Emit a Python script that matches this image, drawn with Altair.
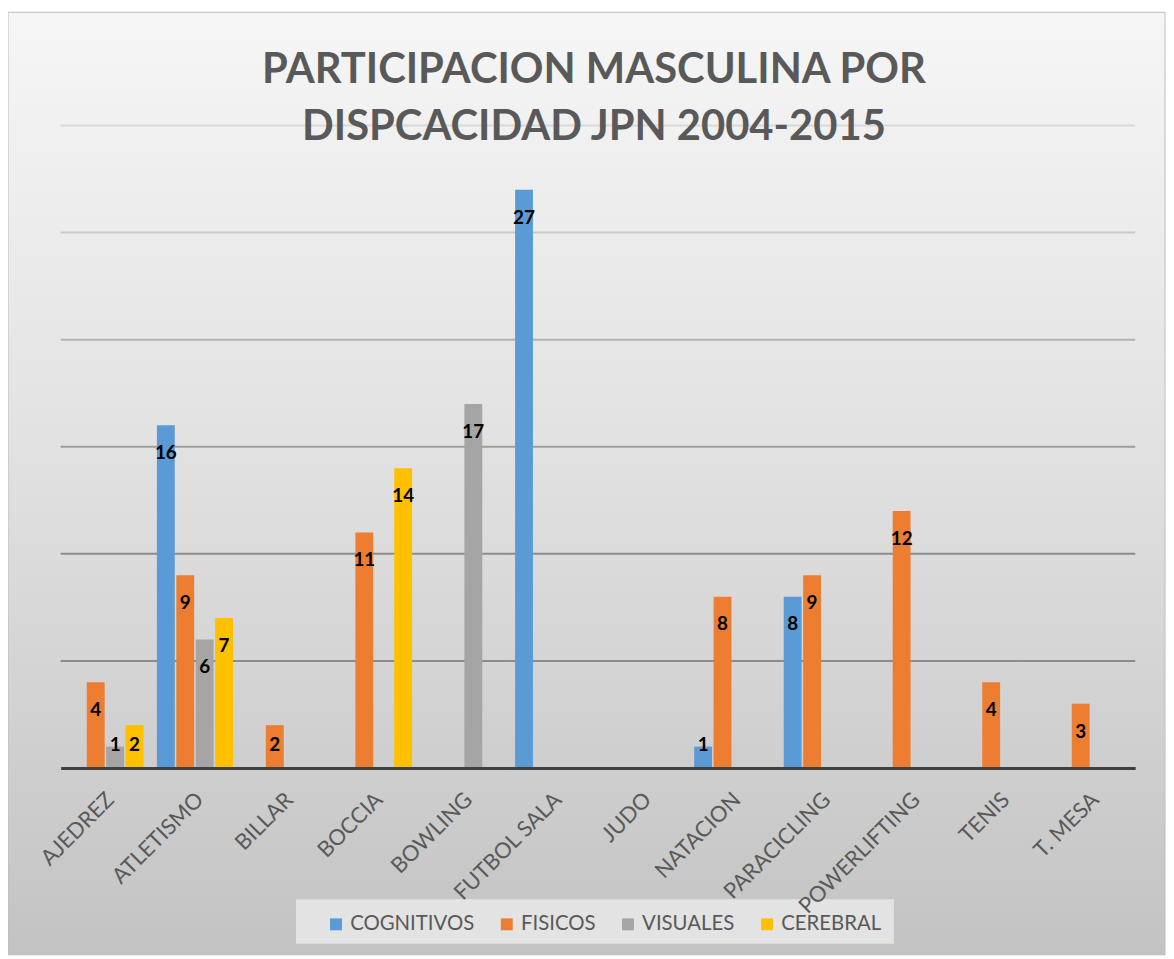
import altair as alt
import pandas as pd

categories = ["AJEDREZ", "ATLETISMO", "BILLAR", "BOCCIA", "BOWLING", "FUTBOL SALA",
              "JUDO", "NATACION", "PARACICLING", "POWERLIFTING", "TENIS", "T. MESA"]
series = ["COGNITIVOS", "FISICOS", "VISUALES", "CEREBRAL"]
cognitivos = [0, 16, 0, 0, 0, 27, 0, 1, 8, 0, 0, 0]
fisicos = [4, 9, 2, 11, 0, 0, 0, 8, 9, 12, 4, 3]
visuales = [1, 6, 0, 0, 17, 0, 0, 0, 0, 0, 0, 0]
cerebral = [2, 7, 0, 14, 0, 0, 0, 0, 0, 0, 0, 0]
colors = ["#5B9BD5", "#ED7D31", "#A5A5A5", "#FFC000"]
grid_values = [5, 10, 15, 20, 25, 30]

rows = []
for s, vals in zip(series, [cognitivos, fisicos, visuales, cerebral]):
    for c, v in zip(categories, vals):
        rows.append({"cat": c, "serie": s, "value": v})
df = pd.DataFrame(rows)

W, H = 1082, 647
PL, PT, PR, PB = 53, 115, 31, 189

bg = alt.Chart(alt.Data(values=[{"k": 1}])).mark_rect(
    color=alt.LinearGradient(
        gradient="linear",
        stops=[alt.GradientStop(color="#f6f6f6", offset=0),
               alt.GradientStop(color="#e2e2e2", offset=0.45),
               alt.GradientStop(color="#c3c3c3", offset=1)],
        x1=0, x2=0, y1=0, y2=1),
    stroke="#bdbdbd", strokeWidth=1
).encode(
    x=alt.value(-PL), x2=alt.value(W + PR - 1),
    y=alt.value(-PT + 1), y2=alt.value(H + PB - 1)
)

legend_box = alt.Chart(alt.Data(values=[{"k": 1}])).mark_rect(
    color="#e3e3e3"
).encode(
    x=alt.value(237), x2=alt.value(839),
    y=alt.value(779), y2=alt.value(824)
)

ydom = alt.Scale(domain=[0, 30], nice=False)

grid = alt.Chart(pd.DataFrame({"g": grid_values})).mark_rule(strokeWidth=2).encode(
    y=alt.Y("g:Q", scale=ydom, axis=None),
    color={"condition": [
        {"test": "datum.g >= 30", "value": "#d9d9d9"},
        {"test": "datum.g >= 25", "value": "#c9c9c9"},
        {"test": "datum.g >= 20", "value": "#b3b3b3"},
        {"test": "datum.g >= 15", "value": "#9e9e9e"}],
        "value": "#8c8c8c"}
)

x_enc = alt.X("cat:N", sort=categories,
              scale=alt.Scale(paddingInner=0.15, paddingOuter=0.075),
              axis=alt.Axis(title=None, labelAngle=-45, labelAlign="right",
                            labelBaseline="middle", labelFont="Lato",
                            labelFontSize=22, labelColor="#595959",
                            labelPadding=28, labelOffset=5, ticks=False,
                            domainColor="#404040", domainWidth=3, grid=False,
                            zindex=1))
xo_enc = alt.XOffset("serie:N", sort=series, scale=alt.Scale(paddingInner=0.08))

bars = alt.Chart(df).mark_bar().encode(
    x=x_enc, xOffset=xo_enc,
    y=alt.Y("value:Q", scale=ydom, axis=None),
    color=alt.Color("serie:N", sort=series,
                    scale=alt.Scale(domain=series, range=colors),
                    legend=alt.Legend(orient="none", legendX=256, legendY=783,
                                      direction="horizontal", columns=4, title=None,
                                      symbolType="square", symbolSize=144,
                                      symbolStrokeWidth=0,
                                      labelFont="Lato", labelFontSize=20.5,
                                      labelColor="#595959",
                                      padding=11, columnPadding=22, labelOffset=4))
)

labels = alt.Chart(df).transform_filter("datum.value > 0").transform_calculate(
    ly="max(datum.value - 1.3, 1.07)"
).mark_text(font="Lato", fontSize=19, fontWeight="bold", color="#000000",
            baseline="middle").encode(
    x=alt.X("cat:N", sort=categories), xOffset=alt.XOffset("serie:N", sort=series),
    y=alt.Y("ly:Q", scale=ydom, axis=None), text="value:Q"
)

chart = alt.layer(bg, grid, legend_box, bars, labels).properties(
    width=W, height=H,
    autosize=alt.AutoSizeParams(type="none"),
    padding={"left": PL, "top": PT, "right": PR, "bottom": PB},
    background="white",
    title=alt.TitleParams(
        text=["PARTICIPACION MASCULINA POR", "DISPCACIDAD JPN 2004-2015"],
        font="Lato", fontSize=42, fontWeight="bold", color="#595959",
        lineHeight=57, anchor="middle", dx=-4, dy=103, offset=-68,
        baseline="alphabetic")
).configure_view(stroke=None)

chart.save("out.html", embed_options={"renderer": "svg", "actions": False})
